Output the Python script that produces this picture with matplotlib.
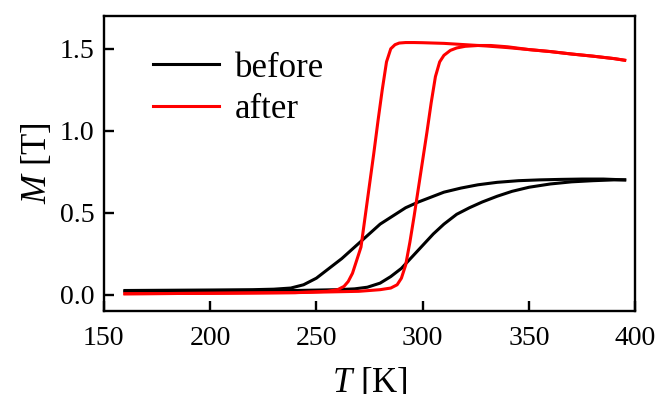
import matplotlib
matplotlib.use("Agg")
import matplotlib.pyplot as plt

plt.rcParams['font.family'] = ['Liberation Serif', 'DejaVu Serif']
plt.rcParams['mathtext.fontset'] = 'custom'
plt.rcParams['mathtext.it'] = 'Liberation Serif:italic'
plt.rcParams['mathtext.rm'] = 'Liberation Serif'

# "before" sample: cooling branch (upper-left) and heating branch (lower-right)
before_cool_T = [160, 200, 220, 230, 238, 244, 250, 256, 262, 268, 274, 280, 286, 292,
                 298, 304, 310, 318, 326, 335, 345, 355, 365, 375, 385, 395]
before_cool_M = [0.025, 0.028, 0.03, 0.033, 0.04, 0.06, 0.10, 0.16, 0.22, 0.29, 0.36,
                 0.43, 0.48, 0.53, 0.565, 0.595, 0.625, 0.65, 0.67, 0.685, 0.695, 0.70,
                 0.703, 0.705, 0.705, 0.70]
before_heat_T = [160, 200, 240, 260, 268, 274, 280, 285, 290, 295, 300, 305, 310, 316,
                 322, 328, 335, 342, 350, 360, 370, 380, 390, 395]
before_heat_M = [0.02, 0.022, 0.025, 0.03, 0.035, 0.045, 0.07, 0.11, 0.16, 0.23, 0.30,
                 0.37, 0.43, 0.49, 0.53, 0.565, 0.60, 0.63, 0.655, 0.675, 0.688, 0.695,
                 0.70, 0.70]

# "after" sample
after_cool_T = [160, 200, 240, 255, 260, 263, 265, 267, 269, 271, 273, 275, 277, 279,
                281, 283, 285, 287, 289, 292, 296, 300, 310, 320, 330, 340, 350, 360,
                370, 380, 390, 395]
after_cool_M = [0.005, 0.008, 0.012, 0.02, 0.03, 0.05, 0.08, 0.13, 0.21, 0.29, 0.48,
                0.67, 0.86, 1.06, 1.25, 1.42, 1.50, 1.525, 1.535, 1.538, 1.538, 1.537,
                1.533, 1.525, 1.517, 1.507, 1.495, 1.483, 1.468, 1.455, 1.44, 1.43]
after_heat_T = [160, 200, 240, 270, 280, 285, 288, 290, 292, 294, 296, 298, 300, 302,
                304, 306, 308, 310, 313, 316, 320, 326, 332, 340, 350, 360, 370, 380,
                390, 395]
after_heat_M = [0.005, 0.008, 0.012, 0.02, 0.03, 0.04, 0.06, 0.10, 0.18, 0.32, 0.48,
                0.65, 0.82, 0.99, 1.17, 1.33, 1.42, 1.46, 1.49, 1.505, 1.515, 1.52, 1.52,
                1.512, 1.495, 1.483, 1.468, 1.455, 1.44, 1.43]

x_ticks = [150, 200, 250, 300, 350, 400]
y_ticks = [0.0, 0.5, 1.0, 1.5]

fig = plt.figure(figsize=(6.56, 3.94), dpi=100)
ax = fig.add_axes([0.158, 0.2107, 0.8105, 0.7487])

lw = 2.2
ax.plot(before_cool_T, before_cool_M, color='black', lw=lw, label='before')
ax.plot(before_heat_T, before_heat_M, color='black', lw=lw)
ax.plot(after_cool_T, after_cool_M, color='#ff0000', lw=lw, label='after')
ax.plot(after_heat_T, after_heat_M, color='#ff0000', lw=lw)

ax.set_xlim(150, 400)
ax.set_ylim(-0.1, 1.7)
ax.set_xticks(x_ticks)
ax.set_yticks(y_ticks)
ax.set_xticklabels([str(v) for v in x_ticks])
ax.set_yticklabels([f"{v:.1f}" for v in y_ticks])
ax.tick_params(direction='in', length=7.5, width=1.7, labelsize=20)
ax.tick_params(axis='x', pad=11)
ax.tick_params(axis='y', pad=6.5)
for s in ax.spines.values():
    s.set_linewidth(1.7)

ax.set_xlabel('$T$ [K]', fontsize=25, labelpad=10.5)
ax.set_ylabel('$M$ [T]', fontsize=25, labelpad=4)

ax.legend(loc='center left', frameon=False, fontsize=25, handlelength=1.92,
          handletextpad=0.45, labelspacing=0.25, borderpad=0, borderaxespad=0,
          bbox_to_anchor=(0.092, 0.753))

fig.savefig('out.png', dpi=100)
